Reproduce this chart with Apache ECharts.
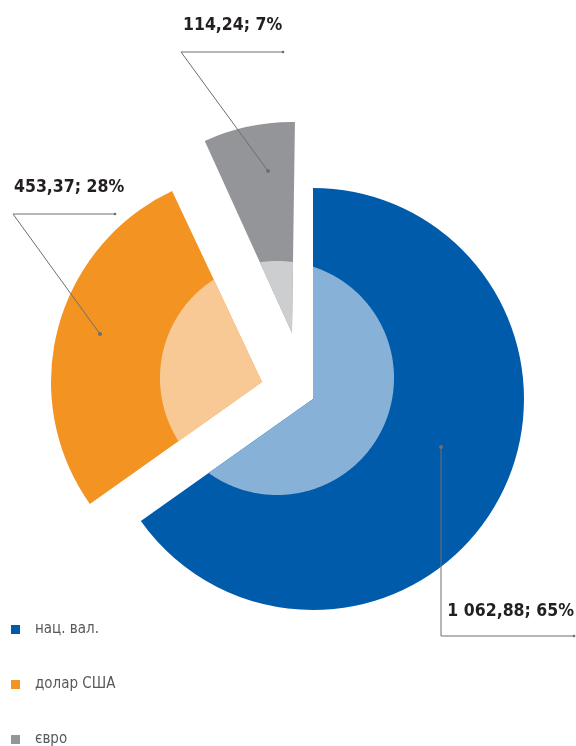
<!DOCTYPE html>
<html>
<head>
<meta charset="utf-8">
<script src="https://cdn.jsdelivr.net/npm/echarts@6/dist/echarts.min.js"></script>
<style>
html,body{margin:0;padding:0;background:#fff;}
#chart{width:576px;height:746px;}
</style>
</head>
<body>
<div id="chart"></div>
<script>
// ---- data ----
const categories = ['нац. вал.', 'долар США', 'євро'];
const values = [1062.88, 453.37, 114.24];

// ---- styling / layout ----
const darkColors = ['#005CAB', '#F39321', '#939598'];
const lightColors = ['#87B1D7', '#F8C995', '#CDCED0'];
const FONT = "'Liberation Sans Narrow', 'DejaVu Sans Condensed', 'Roboto Condensed', sans-serif";
const sliceCenters = [[313, 399], [262, 382], [292, 333]];
const sliceRotation = [0, 0, 0.8];   // small per-slice rotation (deg, clockwise)
const outerRadius = 211;
const innerCircle = { cx: 277, cy: 378, r: 117 };
// label annotation layout: anchor (dot), elbow, end, text position + alignment
const labelLayouts = [
  { anchor: [441, 447], elbow: [441, 636], end: [574, 636], text: [574, 611], align: 'right' },
  { anchor: [100, 334], elbow: [13, 214], end: [115, 214], text: [14, 187], align: 'left' },
  { anchor: [268, 171], elbow: [181, 52], end: [283, 52], text: [183, 25], align: 'left' }
];
const legendTops = [622, 677, 732];

const total = values.reduce((a, b) => a + b, 0);
function fmtNum(v) {
  const parts = v.toFixed(2).split('.');
  parts[0] = parts[0].replace(/\B(?=(\d{3})+(?!\d))/g, ' ');
  return parts.join(',');
}

// one pie series per slice (exploded), angles come from data
const pieSeries = categories.map((cat, k) => ({
  type: 'pie',
  center: sliceCenters[k],
  radius: outerRadius,
  startAngle: 90 - sliceRotation[k],
  clockwise: true,
  avoidLabelOverlap: false,
  silent: true,
  z: 2,
  label: {
    position: 'outside',
    formatter: p => fmtNum(p.value) + '; ' + Math.round(p.percent) + '%',
    fontFamily: FONT,
    fontWeight: 'bold',
    fontSize: 17.5,
    color: '#231F20'
  },
  labelLine: { show: false },
  labelLayout: function (params) {
    const L = labelLayouts[params.dataIndex];
    return { x: L.text[0], y: L.text[1], align: L.align, verticalAlign: 'middle' };
  },
  data: categories.map((name, i) => ({
    name: name,
    value: values[i],
    itemStyle: { color: i === k ? darkColors[i] : 'rgba(0,0,0,0)' },
    label: { show: i === k },
    labelLine: { show: false }
  }))
}));

// light inner parts: the common inner circle clipped to each exploded slice, plus leader lines
const innerSeries = {
  type: 'custom',
  coordinateSystem: 'none',
  silent: true,
  z: 3,
  data: values.map(v => [v]),
  renderItem: function (params) {
    const i = params.dataIndex;
    let cum = 0;
    for (let j = 0; j < i; j++) cum += values[j];
    const a0 = cum / total * 360 + sliceRotation[i];
    const a1 = (cum + values[i]) / total * 360 + sliceRotation[i];
    const A = sliceCenters[i];
    const wx = A[0] - innerCircle.cx, wy = A[1] - innerCircle.cy;
    const pts = [[A[0], A[1]]];
    const steps = Math.max(8, Math.ceil((a1 - a0) / 0.5));
    for (let s = 0; s <= steps; s++) {
      const th = (a0 + (a1 - a0) * s / steps) * Math.PI / 180;
      const ux = Math.sin(th), uy = -Math.cos(th);
      const b = wx * ux + wy * uy;
      const c = wx * wx + wy * wy - innerCircle.r * innerCircle.r;
      let rho = -b + Math.sqrt(Math.max(0, b * b - c));
      rho = Math.min(rho, outerRadius);
      pts.push([A[0] + rho * ux, A[1] + rho * uy]);
    }
    const L = labelLayouts[i];
    return {
      type: 'group',
      children: [
        { type: 'polygon', shape: { points: pts }, style: { fill: lightColors[i] } },
        { type: 'polyline', shape: { points: [L.anchor, L.elbow, L.end] }, style: { stroke: '#6D6E71', lineWidth: 1, fill: null }, z2: 9 },
        { type: 'circle', shape: { cx: L.anchor[0], cy: L.anchor[1], r: 2 }, style: { fill: '#6D6E71' }, z2: 10 },
        { type: 'circle', shape: { cx: L.end[0], cy: L.end[1], r: 1.3 }, style: { fill: '#6D6E71' }, z2: 10 }
      ]
    };
  }
};

const legends = categories.map((c, i) => ({
  orient: 'vertical',
  left: 11,
  top: legendTops[i],
  padding: 0,
  icon: 'rect',
  itemWidth: 9,
  itemHeight: 9,
  selectedMode: false,
  textStyle: { fontFamily: FONT, fontSize: 15, color: '#58595B', padding: [0, 0, 0, 10] },
  data: [{ name: c, itemStyle: { color: darkColors[i] } }]
}));

const chart = echarts.init(document.getElementById('chart'), null, { renderer: 'canvas' });
chart.setOption({
  backgroundColor: '#ffffff',
  animation: false,
  legend: legends,
  series: pieSeries.concat([innerSeries])
});
</script>
</body>
</html>
